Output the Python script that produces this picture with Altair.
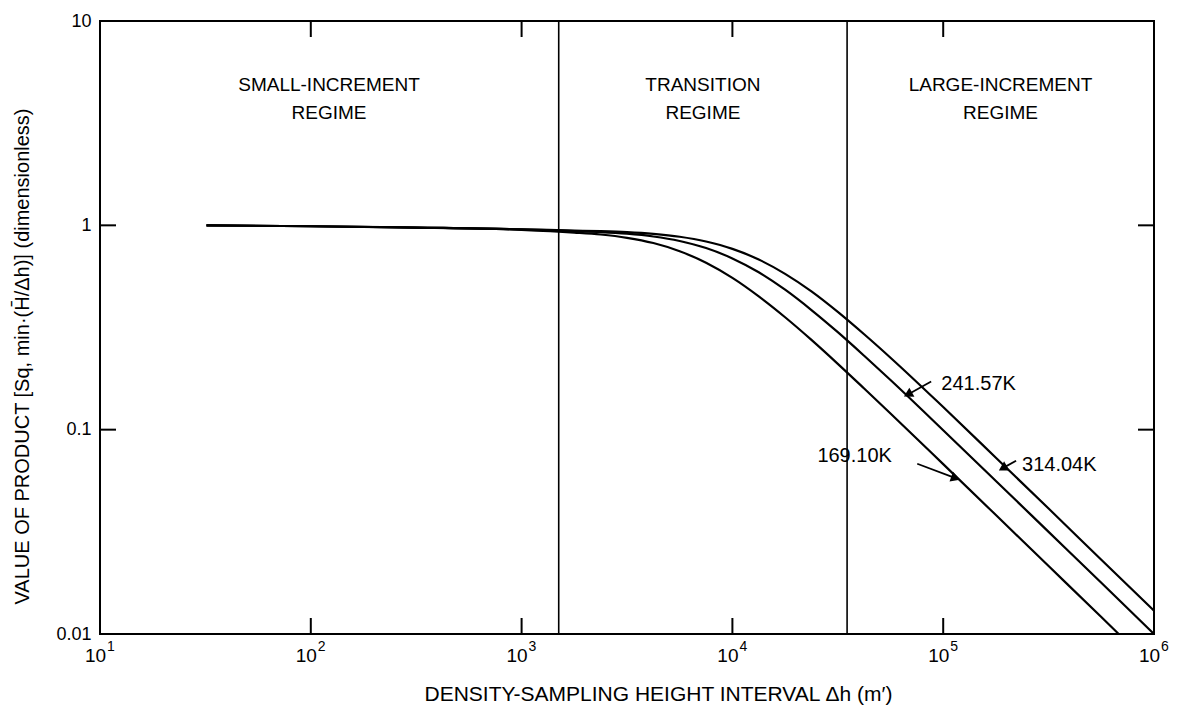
import altair as alt
import pandas as pd

# ---------------- data ----------------
dh_169 = [32, 100, 316, 1000, 1778, 2371, 3162, 4217, 5623, 7499, 10000, 13335,
          17783, 23714, 31623, 42170, 56234, 100000, 177828, 316228, 562341, 680000]
val_169 = [1.00, 0.99, 0.975, 0.951, 0.922, 0.902, 0.869, 0.819, 0.747, 0.656, 0.553,
           0.449, 0.355, 0.275, 0.210, 0.159, 0.120, 0.0678, 0.0382, 0.0215, 0.0121, 0.0100]

dh_242 = [32, 100, 316, 1000, 1778, 2371, 3162, 4217, 5623, 7499, 10000, 13335,
          17783, 23714, 31623, 42170, 56234, 100000, 177828, 316228, 562341, 1000000]
val_242 = [1.00, 0.99, 0.975, 0.956, 0.937, 0.927, 0.910, 0.882, 0.838, 0.774, 0.689,
           0.589, 0.484, 0.385, 0.300, 0.230, 0.175, 0.0994, 0.0561, 0.0316, 0.0178, 0.0100]

dh_314 = [32, 100, 316, 1000, 1778, 2371, 3162, 4217, 5623, 7499, 10000, 13335,
          17783, 23714, 31623, 42170, 56234, 100000, 177828, 316228, 562341, 1000000]
val_314 = [1.00, 0.99, 0.975, 0.957, 0.942, 0.936, 0.926, 0.908, 0.879, 0.833, 0.767,
           0.680, 0.579, 0.475, 0.377, 0.293, 0.225, 0.129, 0.0729, 0.0411, 0.0231, 0.0130]

series_names = ["169.10K", "241.57K", "314.04K"]

# regime boundaries (vertical lines) and labels
regime_bounds = [1500, 35000]
regime_label_x = [122, 7245, 187000]
regime_labels = ["SMALL-INCREMENT\nREGIME", "TRANSITION\nREGIME", "LARGE-INCREMENT\nREGIME"]

# curve labels and arrows
curve_label_x = [25300, 98000, 236600]
curve_label_y = [0.0746, 0.168, 0.0674]
arrow_x1 = [75300, 87700, 221700]
arrow_y1 = [0.0681, 0.172, 0.0705]
arrow_x2 = [112700, 69000, 194500]
arrow_y2 = [0.0582, 0.150, 0.0654]
arrow_angle = [110, 241, 240]

# axes
x_ticks = [10, 100, 1000, 10000, 100000, 1000000]
x_tick_base = ["10", "10", "10", "10", "10", "10"]
x_tick_exp = ["1", "2", "3", "4", "5", "6"]
y_ticks = [0.01, 0.1, 1, 10]
y_tick_labels = ["0.01", "0.1", "1", "10"]
x_inner_ticks = [100, 1000, 10000, 100000]
y_inner_ticks = [0.1, 1]

x_title = "DENSITY-SAMPLING HEIGHT INTERVAL Δh (m′)"
y_title = "VALUE OF PRODUCT   [Sq, min·(H̄/Δh)]   (dimensionless)"

# ---------------- tables ----------------
curves = pd.concat([
    pd.DataFrame({"dh": dh_169, "val": val_169, "series": series_names[0]}),
    pd.DataFrame({"dh": dh_242, "val": val_242, "series": series_names[1]}),
    pd.DataFrame({"dh": dh_314, "val": val_314, "series": series_names[2]}),
], ignore_index=True)

bounds_df = pd.DataFrame({"dh": regime_bounds})
regime_df = pd.DataFrame({"dh": regime_label_x, "label": regime_labels})
clabel_df = pd.DataFrame({"dh": curve_label_x, "val": curve_label_y, "label": series_names})
arrow_df = pd.DataFrame({"dh": arrow_x1, "val": arrow_y1, "dh2": arrow_x2, "val2": arrow_y2,
                         "angle": arrow_angle})
exp_df = pd.DataFrame({"dh": x_ticks, "exp": x_tick_exp})
xt_df = pd.DataFrame({"dh": x_inner_ticks})
yt_df = pd.DataFrame({"val": y_inner_ticks})

FONT = "Liberation Sans"
W, H = 1054, 613
TICK = 16  # inward tick length in px

x_scale = alt.Scale(type="log", domain=[10, 1000000], nice=False)
y_scale = alt.Scale(type="log", domain=[0.01, 10], nice=False)

x_expr = "{" + ",".join(f"'{v}':'{l}'" for v, l in zip(x_ticks, x_tick_base)) + "}[''+datum.value]"
y_expr = "{" + ",".join(f"'{v}':'{l}'" for v, l in zip(y_ticks, y_tick_labels)) + "}[''+datum.value]"

x_axis = alt.Axis(orient="bottom", values=x_ticks, labelExpr=x_expr, labelFontSize=19,
                  labelPadding=12, labelOffset=-5, labelFlush=False, labelOverlap=False,
                  labelFont=FONT, labelColor="black", ticks=False, domain=False, grid=False,
                  title=x_title, titleFont=FONT, titleFontSize=21, titleFontWeight="normal",
                  titleColor="black", titleX=558, titleY=60, titleAlign="center",
                  titleBaseline="middle")
y_axis = alt.Axis(orient="left", values=y_ticks, labelExpr=y_expr, labelFontSize=18,
                  labelPadding=9, labelFlush=False, labelOverlap=False, labelFont=FONT,
                  labelColor="black", ticks=False, domain=False, grid=False,
                  title=y_title, titleFont=FONT, titleFontSize=20, titleFontWeight="normal",
                  titleColor="black", titleAngle=270, titleX=-78, titleY=335,
                  titleAlign="center", titleBaseline="middle")

lines = alt.Chart(curves).mark_line(color="black", strokeWidth=2.2,
                                    interpolate="monotone").encode(
    x=alt.X("dh:Q", scale=x_scale, axis=x_axis),
    y=alt.Y("val:Q", scale=y_scale, axis=y_axis),
    detail="series:N",
)

vlines = alt.Chart(bounds_df).mark_rule(color="black", strokeWidth=1.6).encode(
    x=alt.X("dh:Q", scale=x_scale),
)

regime_text = alt.Chart(regime_df).mark_text(
    font=FONT, fontSize=19, lineBreak="\n", lineHeight=28, align="center",
    baseline="top", color="black").encode(
    x=alt.X("dh:Q", scale=x_scale),
    y=alt.value(55),
    text="label:N",
)

exp_text = alt.Chart(exp_df).mark_text(
    font=FONT, fontSize=14, align="left", baseline="top", color="black", dx=7).encode(
    x=alt.X("dh:Q", scale=x_scale),
    y=alt.value(H + 6),
    text="exp:N",
)

clabels = alt.Chart(clabel_df).mark_text(
    font=FONT, fontSize=20, align="left", baseline="middle", color="black").encode(
    x=alt.X("dh:Q", scale=x_scale),
    y=alt.Y("val:Q", scale=y_scale),
    text="label:N",
)

arrows = alt.Chart(arrow_df).mark_rule(color="black", strokeWidth=1.8).encode(
    x=alt.X("dh:Q", scale=x_scale),
    y=alt.Y("val:Q", scale=y_scale),
    x2="dh2:Q",
    y2="val2:Q",
)

heads = alt.Chart(arrow_df).mark_point(shape="triangle", filled=True, size=110,
                                       color="black", opacity=1).encode(
    x=alt.X("dh2:Q", scale=x_scale),
    y=alt.Y("val2:Q", scale=y_scale),
    angle=alt.Angle("angle:Q", scale=None),
)

# inward frame ticks
top_ticks = alt.Chart(xt_df).mark_rule(color="black", strokeWidth=2).encode(
    x=alt.X("dh:Q", scale=x_scale), y=alt.value(1), y2=alt.value(TICK))
bot_ticks = alt.Chart(xt_df).mark_rule(color="black", strokeWidth=2).encode(
    x=alt.X("dh:Q", scale=x_scale), y=alt.value(H - TICK), y2=alt.value(H - 1))
left_ticks = alt.Chart(yt_df).mark_rule(color="black", strokeWidth=2).encode(
    y=alt.Y("val:Q", scale=y_scale), x=alt.value(1), x2=alt.value(TICK))
right_ticks = alt.Chart(yt_df).mark_rule(color="black", strokeWidth=2).encode(
    y=alt.Y("val:Q", scale=y_scale), x=alt.value(W - TICK), x2=alt.value(W - 1))

chart = alt.layer(
    lines, vlines, regime_text, exp_text, clabels, arrows, heads,
    top_ticks, bot_ticks, left_ticks, right_ticks,
).properties(
    width=W, height=H,
    autosize=alt.AutoSizeParams(type="none"),
    padding={"left": 92, "top": 13, "right": 19, "bottom": 71},
).configure_view(
    stroke="black", strokeWidth=2,
).configure_axis(
    grid=False, domain=False, ticks=False,
)

chart.save("out.html", embed_options={"renderer": "svg", "actions": False})
